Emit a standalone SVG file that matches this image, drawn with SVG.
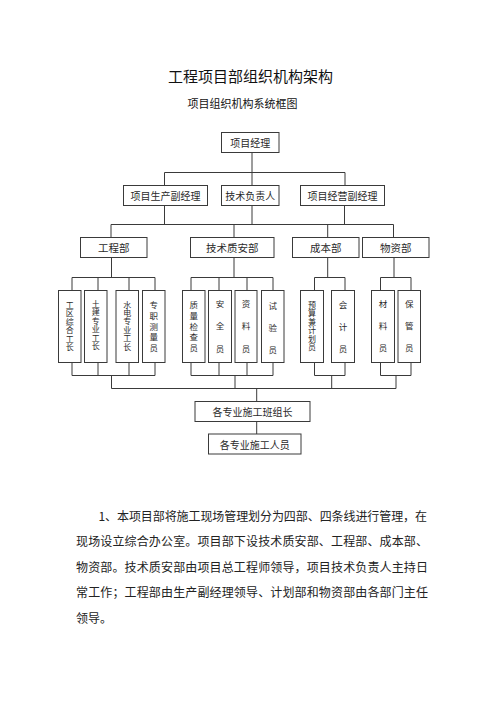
<svg xmlns="http://www.w3.org/2000/svg" width="500" height="708" viewBox="0 0 500 708">
<style>
.bg{fill:#ffffff}
.box{fill:#ffffff;stroke:#3a3a3a;stroke-width:1}
.ln{fill:none;stroke:#3a3a3a;stroke-width:1}
.t{font-family:"Noto Sans CJK SC","Noto Sans",sans-serif;fill:#2a2a2a;text-anchor:middle;dominant-baseline:central}
.t10{font-size:10px}
.t105{font-size:10.5px}
.vt{font-family:"Noto Sans CJK SC","Noto Sans",sans-serif;fill:#2a2a2a;text-anchor:middle;writing-mode:vertical-rl}
.v6{font-size:8px;letter-spacing:0.4px}
.v5{font-size:8.5px;letter-spacing:2.2px}
.v3{font-size:8.5px;letter-spacing:13.75px}
.title{font-family:"Noto Sans CJK SC",sans-serif;font-size:15px;fill:#111;text-anchor:middle;dominant-baseline:central}
.sub{font-family:"Noto Sans CJK SC",sans-serif;font-size:11px;fill:#111;text-anchor:middle;dominant-baseline:central}
.p{font-family:"Noto Sans CJK SC",sans-serif;font-size:12px;fill:#222;dominant-baseline:central}
</style>
<rect class="bg" x="0" y="0" width="500" height="708"/>
<text class="title" x="250.5" y="75">工程项目部组织机构架构</text>
<text class="sub" x="242.5" y="102.5">项目组织机构系统框图</text>

<g id="connectors">
<path class="ln" d="M252 152.5V185.5M164.5 172.5H345M164.5 172.5V185.5M345 172.5V185.5"/>
<path class="ln" d="M164.5 205.5V224.5M252 205.5V224.5M344.5 205.5V224.5M111 224.5H393.5M111 224.5V237.5M234 224.5V237.5M327.7 224.5V237.5M393.5 224.5V237.5"/>
<path class="ln" d="M111.5 257.5V277.5M234 257.5V277.5M327.7 257.5V277.5M394 257.5V277.5"/>
<path class="ln" d="M72 277.5H155M191 277.5H273M314.5 277.5H345M380.5 277.5H411"/>
<path class="ln" d="M72 277.5V290.5M98 277.5V290.5M129 277.5V290.5M155 277.5V290.5M191 277.5V290.5M219 277.5V290.5M247 277.5V290.5M273 277.5V290.5M314.5 277.5V290.5M345 277.5V290.5M380.5 277.5V290.5M411 277.5V290.5"/>
<path class="ln" d="M72 362.5V375.5M98 362.5V375.5M129 362.5V375.5M155 362.5V375.5M191 362.5V375.5M219 362.5V375.5M247 362.5V375.5M273 362.5V375.5M314.5 362.5V375.5M345 362.5V375.5M380.5 362.5V375.5M411 362.5V375.5"/>
<path class="ln" d="M72 375.5H155M191 375.5H273M314.5 375.5H345M380.5 375.5H411"/>
<path class="ln" d="M111.5 375.5V388.5M235 375.5V388.5M331.7 375.5V388.5M396 375.5V388.5M111.5 388.5H396M256.7 388.5V401.5M256.7 421.5V434"/>
</g>

<g id="n-pm"><rect class="box" x="221.5" y="132.5" width="57.5" height="20"/><text class="t t10" x="250.2" y="142.5">项目经理</text></g>
<g id="n-prod"><rect class="box" x="123.5" y="185.5" width="84" height="20"/><text class="t t10" x="165.5" y="195.5">项目生产副经理</text></g>
<g id="n-tech"><rect class="box" x="221.5" y="185.5" width="57.5" height="20"/><text class="t t10" x="250.2" y="195.5">技术负责人</text></g>
<g id="n-biz"><rect class="box" x="300.5" y="185.5" width="84" height="20"/><text class="t t10" x="342.5" y="195.5">项目经营副经理</text></g>

<g id="n-eng"><rect class="box" x="80.5" y="237.5" width="66.5" height="20"/><text class="t t105" x="113.7" y="247.5">工程部</text></g>
<g id="n-qa"><rect class="box" x="190.5" y="237.5" width="83.5" height="20"/><text class="t t105" x="232.2" y="247.5">技术质安部</text></g>
<g id="n-cost"><rect class="box" x="292.5" y="237.5" width="66.5" height="20"/><text class="t t105" x="325.7" y="247.5">成本部</text></g>
<g id="n-mat"><rect class="box" x="362.5" y="237.5" width="66.5" height="20"/><text class="t t105" x="395.7" y="247.5">物资部</text></g>

<g id="n-l1"><rect class="box" x="58.5" y="290.5" width="22.5" height="72"/><text class="vt v6" x="69.7" y="326.2">工区综合工长</text></g>
<g id="n-l2"><rect class="box" x="84.5" y="290.5" width="22.5" height="72"/><text class="vt v6" x="95.7" y="325.2">土建专业工长</text></g>
<g id="n-l3"><rect class="box" x="116" y="290.5" width="22.5" height="72"/><text class="vt v6" x="127.2" y="325.7">水电专业工长</text></g>
<g id="n-l4"><rect class="box" x="142.5" y="290.5" width="22.5" height="72"/><text class="vt v5" x="153.7" y="327.5">专职测量员</text></g>
<g id="n-l5"><rect class="box" x="182.5" y="290.5" width="22.5" height="72"/><text class="vt v5" x="193.7" y="327.5">质量检查员</text></g>
<g id="n-l6"><rect class="box" x="208.5" y="290.5" width="23" height="72"/><text class="vt v3" x="220" y="333.1">安全员</text></g>
<g id="n-l7"><rect class="box" x="235" y="290.5" width="22" height="72"/><text class="vt v3" x="246" y="333.1">资料员</text></g>
<g id="n-l8"><rect class="box" x="261.5" y="290.5" width="22.5" height="72"/><text class="vt v3" x="272.7" y="334.6">试验员</text></g>
<g id="n-l9"><rect class="box" x="300.5" y="290.5" width="23" height="72"/><text class="vt v6" x="312" y="326.2">预算兼计划员</text></g>
<g id="n-l10"><rect class="box" x="331.5" y="290.5" width="23" height="72"/><text class="vt v3" x="343" y="333.6">会计员</text></g>
<g id="n-l11"><rect class="box" x="371.5" y="290.5" width="23" height="72"/><text class="vt v3" x="383" y="332.6">材料员</text></g>
<g id="n-l12"><rect class="box" x="398" y="290.5" width="22.5" height="72"/><text class="vt v3" x="409.2" y="332.6">保管员</text></g>

<g id="n-lead"><rect class="box" x="195" y="401.5" width="115" height="20"/><text class="t t10" x="252.5" y="411.5">各专业施工班组长</text></g>
<g id="n-staff"><rect class="box" x="208.5" y="434" width="92.5" height="20"/><text class="t t10" x="254.7" y="444">各专业施工人员</text></g>

<text class="p" x="98.5" y="515" textLength="328.5" lengthAdjust="spacing">1、本项目部将施工现场管理划分为四部、四条线进行管理，在</text>
<text class="p" x="76" y="540.5" textLength="352" lengthAdjust="spacing">现场设立综合办公室。项目部下设技术质安部、工程部、成本部、</text>
<text class="p" x="76" y="566" textLength="352" lengthAdjust="spacing">物资部。技术质安部由项目总工程师领导，项目技术负责人主持日</text>
<text class="p" x="76" y="591.5" textLength="352" lengthAdjust="spacing">常工作；工程部由生产副经理领导、计划部和物资部由各部门主任</text>
<text class="p" x="76" y="617">领导。</text>
</svg>
